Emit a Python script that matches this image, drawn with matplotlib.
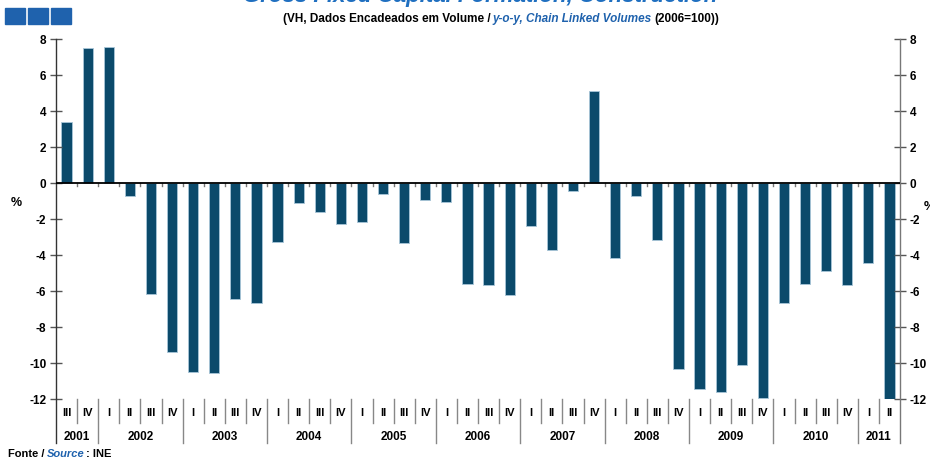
import numpy as np
import matplotlib.pyplot as plt
from matplotlib.patches import Rectangle

plt.rcParams['font.family'] = ['Liberation Sans', 'DejaVu Sans']
plt.rcParams['axes.unicode_minus'] = False

# quarters from 2001 III to 2011 II
quarters = ['III', 'IV'] + ['I', 'II', 'III', 'IV'] * 9 + ['I', 'II']
years = ['2001', '2002', '2003', '2004', '2005', '2006',
         '2007', '2008', '2009', '2010', '2011']
year_counts = [2, 4, 4, 4, 4, 4, 4, 4, 4, 4, 2]

# y-o-y change, %
values = [3.4, 7.5, 7.55,
          -0.74, -6.17, -9.41,
          -10.48, -10.54, -6.43, -6.69,
          -3.3, -1.13, -1.61, -2.26,
          -2.17, -0.63, -3.35, -0.94,
          -1.06, -5.61, -5.67, -6.24,
          -2.39, -3.72, -0.43, 5.13,
          -4.19, -0.74, -3.15, -10.33,
          -11.43, -11.61, -10.13, -11.94,
          -6.69, -5.61, -4.89, -5.67,
          -4.43, -12.0]

bar_color = '#0b4a6b'
blue = '#1f62ad'
W, H = 930, 461

fig = plt.figure(figsize=(W / 100, H / 100), dpi=100)
ax = fig.add_axes([56 / W, 62 / H, 844 / W, 360 / H])

x = np.arange(len(values))
ax.bar(x, values, width=0.48, color=bar_color, edgecolor='#a8c6d8', linewidth=0.6)
ax.set_xlim(-0.5, len(values) - 0.5)
ax.set_ylim(-12, 8)
ax.axhline(0, color='black', lw=1.3, zorder=3)

for s in ax.spines.values():
    s.set_visible(False)
ax.set_xticks([])
ax.set_yticks(range(-12, 9, 2))
ax.tick_params(axis='y', direction='inout', length=8, width=1, color='#555555',
               left=True, right=True, labelleft=True, labelright=True,
               labelsize=8.5, pad=3)
for lab in ax.get_yticklabels():
    lab.set_fontweight('bold')

# small ticks on the zero line
for b in np.arange(0.5, len(values) - 0.5):
    ax.plot([b, b], [0, -0.18], color='#777777', lw=1, zorder=2)

# vertical axis lines going down into the category area
for xa, c in [(0, '#333333'), (1, '#777777')]:
    ax.plot([xa, xa], [-0.122, 1.0], transform=ax.transAxes, color=c,
            lw=1, clip_on=False)

# category separators
year_bounds = np.cumsum(year_counts)[:-1] - 0.5
xt = ax.get_xaxis_transform()
for b in np.arange(0.5, len(values) - 0.5):
    y_end = -0.122 if b in year_bounds else -0.066
    ax.plot([b, b], [0, y_end], transform=xt, color='#888888', lw=1, clip_on=False)

for i, q in enumerate(quarters):
    ax.text(i, -0.039, q, transform=xt, ha='center', va='center',
            fontsize=8, fontweight='bold')

start = 0
for yr, n in zip(years, year_counts):
    ax.text(start + (n - 1) / 2, -0.106, yr, transform=xt, ha='center',
            va='center', fontsize=8.5, fontweight='bold')
    start += n

# % labels
fig.text(16 / W, 1 - 203 / H, '%', fontsize=9, fontweight='bold', ha='center', va='center')
fig.text(924 / W, 1 - 207 / H, '%', fontsize=9, fontweight='bold', ha='left', va='center')

# header
for x0 in [5, 28, 51]:
    fig.patches.append(Rectangle((x0 / W, 1 - 24 / H), 20 / W, 16 / H,
                                 transform=fig.transFigure, color=blue))

fig.text(480 / W, 1 - 2 / H, 'Gross Fixed Capital Formation, Construction',
         ha='center', va='baseline', fontsize=16, fontweight='bold',
         style='italic', color='#1f6fc0')

t1 = fig.text(283 / W, 1 - 22 / H, '(VH, Dados Encadeados em Volume /',
              fontsize=8.5, fontweight='bold', va='baseline')
t2 = ax.annotate('y-o-y, Chain Linked Volumes', xy=(1, 0), xycoords=t1,
                 xytext=(1.5, 0), textcoords='offset points', va='bottom',
                 fontsize=8.5, fontweight='bold', style='italic', color=blue,
                 annotation_clip=False)
ax.annotate('(2006=100))', xy=(1, 0), xycoords=t2, xytext=(1.5, 0),
            textcoords='offset points', va='bottom', fontsize=8.5,
            fontweight='bold', annotation_clip=False)

# source
s1 = fig.text(8 / W, 1 - 457 / H, 'Fonte /', fontsize=8, fontweight='bold',
              va='baseline')
s2 = ax.annotate('Source', xy=(1, 0), xycoords=s1, xytext=(2, 0),
                 textcoords='offset points', va='bottom', fontsize=8,
                 fontweight='bold', style='italic', color=blue,
                 annotation_clip=False)
ax.annotate(': INE', xy=(1, 0), xycoords=s2, xytext=(0.5, 0),
            textcoords='offset points', va='bottom', fontsize=8,
            fontweight='bold', annotation_clip=False)

fig.savefig('out.png', dpi=100)
